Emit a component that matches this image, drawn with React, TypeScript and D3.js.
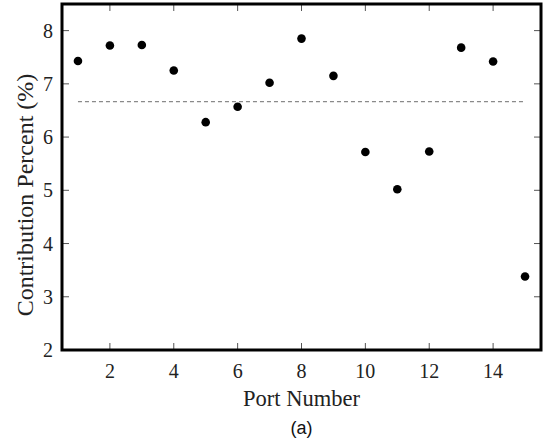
import React, { useEffect, useRef } from "react";
import * as d3 from "d3";

const ports = [1, 2, 3, 4, 5, 6, 7, 8, 9, 10, 11, 12, 13, 14, 15];
const contribution = [7.43, 7.72, 7.73, 7.25, 6.28, 6.57, 7.02, 7.85, 7.15, 5.72, 5.02, 5.73, 7.68, 7.42, 3.38];
const averageLine = [6.667];
const xTicks = [2, 4, 6, 8, 10, 12, 14];
const yTicks = [2, 3, 4, 5, 6, 7, 8];

export default function App() {
  const ref = useRef<SVGSVGElement>(null);

  useEffect(() => {
    if (!ref.current) return;
    const svg = d3.select(ref.current);
    svg.selectAll("*").remove();

    const left = 62, right = 541, top = 4, bottom = 350;
    const x = d3.scaleLinear().domain([0.5, 15.5]).range([left, right]);
    const y = d3.scaleLinear().domain([2, 8.5]).range([bottom, top]);
    const serif = "'Liberation Serif', 'Times New Roman', serif";
    const tickLen = 7;

    // inward ticks on all four sides
    const ticks = svg.append("g").attr("stroke", "#555").attr("stroke-width", 1);
    xTicks.forEach((t) => {
      ticks.append("line").attr("x1", x(t)).attr("x2", x(t)).attr("y1", bottom).attr("y2", bottom - tickLen);
      ticks.append("line").attr("x1", x(t)).attr("x2", x(t)).attr("y1", top).attr("y2", top + tickLen);
    });
    yTicks.forEach((t) => {
      ticks.append("line").attr("x1", left).attr("x2", left + tickLen).attr("y1", y(t)).attr("y2", y(t));
      ticks.append("line").attr("x1", right).attr("x2", right - tickLen).attr("y1", y(t)).attr("y2", y(t));
    });

    // average line
    svg
      .selectAll(".avg")
      .data(averageLine)
      .enter()
      .append("line")
      .attr("x1", x(ports[0]))
      .attr("x2", x(ports[ports.length - 1]))
      .attr("y1", (d) => y(d))
      .attr("y2", (d) => y(d))
      .attr("stroke", "#8a8a8a")
      .attr("stroke-width", 1.2)
      .attr("stroke-dasharray", "4,3");

    // frame
    svg
      .append("rect")
      .attr("x", left)
      .attr("y", top)
      .attr("width", right - left)
      .attr("height", bottom - top)
      .attr("fill", "none")
      .attr("stroke", "#000")
      .attr("stroke-width", 3);

    svg
      .selectAll(".pt")
      .data(contribution)
      .enter()
      .append("circle")
      .attr("cx", (d, i) => x(ports[i]))
      .attr("cy", (d) => y(d))
      .attr("r", 4.3)
      .attr("fill", "#000");

    svg
      .selectAll(".xl")
      .data(xTicks)
      .enter()
      .append("text")
      .attr("x", (d) => x(d))
      .attr("y", 378)
      .attr("text-anchor", "middle")
      .attr("font-family", serif)
      .attr("font-size", 20)
      .attr("fill", "#222")
      .text((d) => d);

    svg
      .selectAll(".yl")
      .data(yTicks)
      .enter()
      .append("text")
      .attr("x", 53)
      .attr("y", (d) => y(d) + 7)
      .attr("text-anchor", "end")
      .attr("font-family", serif)
      .attr("font-size", 20)
      .attr("fill", "#222")
      .text((d) => d);

    svg
      .append("text")
      .attr("x", (left + right) / 2)
      .attr("y", 406)
      .attr("text-anchor", "middle")
      .attr("font-family", serif)
      .attr("font-size", 22.5)
      .attr("fill", "#222")
      .text("Port Number");

    svg
      .append("text")
      .attr("transform", `translate(33,${(top + bottom) / 2 + 18}) rotate(-90)`)
      .attr("text-anchor", "middle")
      .attr("font-family", serif)
      .attr("font-size", 24)
      .attr("fill", "#222")
      .text("Contribution Percent (%)");

    svg
      .append("text")
      .attr("x", (left + right) / 2)
      .attr("y", 434)
      .attr("text-anchor", "middle")
      .attr("font-family", "'Liberation Sans', Arial, sans-serif")
      .attr("font-size", 18)
      .attr("fill", "#111")
      .text("(a)");
  }, []);

  return (
    <svg
      ref={ref}
      width={544}
      height={445}
      style={{ position: "absolute", left: 0, top: 0, background: "#fff" }}
    />
  );
}
